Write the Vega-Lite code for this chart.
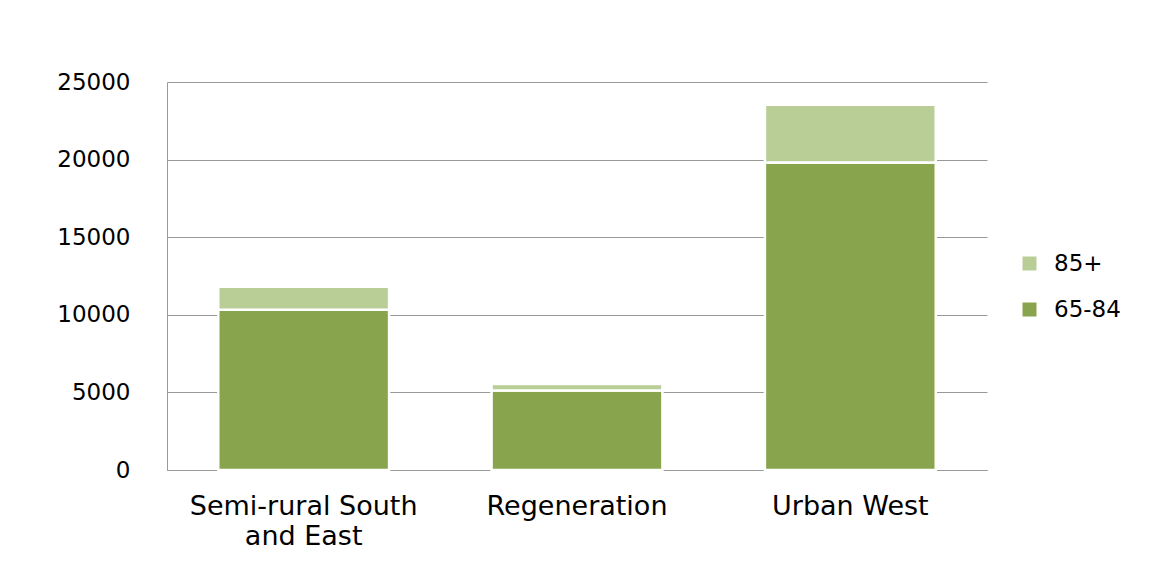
{
  "$schema": "https://vega.github.io/schema/vega-lite/v6.json",
  "autosize": {"type": "none"},
  "padding": {"left": 167, "top": 82, "right": 181, "bottom": 97},
  "width": 820,
  "height": 388,
  "background": "white",
  "config": {
    "font": "DejaVu Sans",
    "view": {"stroke": null},
    "axis": {"labelColor": "#000000", "labelFont": "DejaVu Sans"}
  },
  "data": {
    "values": [
      {"area": "Semi-rural South and East", "age": "65-84", "people": 10330},
      {"area": "Semi-rural South and East", "age": "85+", "people": 1480},
      {"area": "Regeneration", "age": "65-84", "people": 5130},
      {"area": "Regeneration", "age": "85+", "people": 410},
      {"area": "Urban West", "age": "65-84", "people": 19820},
      {"area": "Urban West", "age": "85+", "people": 3720}
    ]
  },
  "mark": {"type": "bar", "stroke": "white", "strokeWidth": 2.5},
  "encoding": {
    "x": {
      "field": "area",
      "type": "nominal",
      "sort": null,
      "title": null,
      "scale": {"paddingInner": 0.375, "paddingOuter": 0.1875},
      "axis": {
        "labelAngle": 0,
        "labelFontSize": 27,
        "labelLineHeight": 30,
        "labelPadding": 23,
        "labelLimit": 0,
        "ticks": false,
        "domainColor": "#999999",
        "labelExpr": "datum.label == 'Semi-rural South and East' ? ['Semi-rural South', 'and East'] : datum.label"
      }
    },
    "y": {
      "field": "people",
      "type": "quantitative",
      "stack": "zero",
      "title": null,
      "scale": {"domain": [0, 25000], "nice": false},
      "axis": {
        "values": [0, 5000, 10000, 15000, 20000, 25000],
        "format": "d",
        "labelFontSize": 23,
        "labelPadding": 37,
        "ticks": false,
        "domainColor": "#999999",
        "gridColor": "#999999",
        "gridWidth": 1
      }
    },
    "color": {
      "field": "age",
      "type": "nominal",
      "scale": {"domain": ["85+", "65-84"], "range": ["#B9CE96", "#88A44C"]},
      "legend": {
        "title": null,
        "orient": "none",
        "legendX": 851,
        "legendY": 170,
        "symbolType": "square",
        "symbolSize": 196,
        "symbolStrokeWidth": 0,
        "labelFontSize": 23,
        "labelColor": "#000000",
        "labelOffset": 13,
        "rowPadding": 22
      }
    },
    "order": {"field": "age", "sort": "ascending"}
  }
}
